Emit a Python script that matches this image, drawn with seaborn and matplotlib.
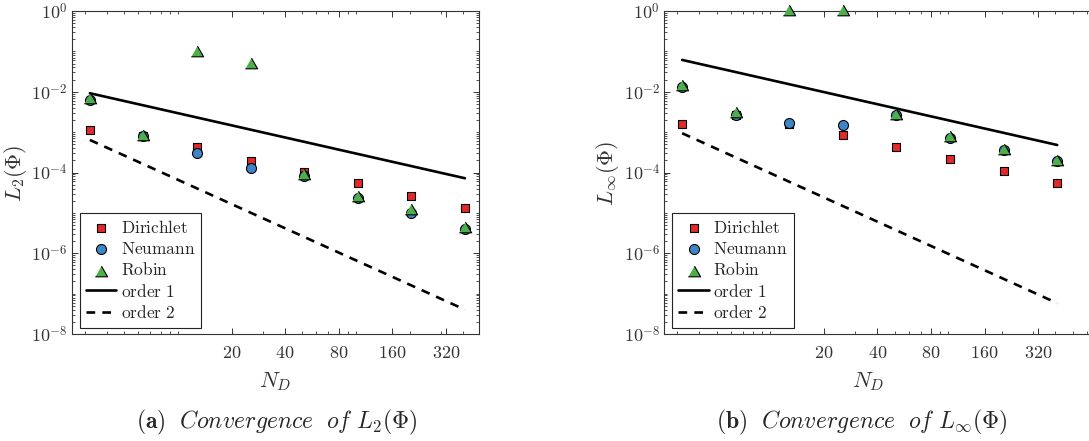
import numpy as np
import pandas as pd
import matplotlib
matplotlib.use("Agg")
import matplotlib.pyplot as plt
import seaborn as sns
from matplotlib.ticker import FixedLocator, FixedFormatter, LogLocator, NullFormatter

# ---------------- data ----------------
N = [3.2, 6.4, 12.8, 25.6, 51.2, 102.4, 204.8, 409.6]
order_N = [3.2, 409.6]
xtick_vals = [20, 40, 80, 160, 320]
xtick_labels = ["$20$", "$40$", "$80$", "$160$", "$320$"]
ytick_vals = [1e-8, 1e-6, 1e-4, 1e-2, 1e0]
ytick_labels = ["$10^{-8}$", "$10^{-6}$", "$10^{-4}$", "$10^{-2}$", "$10^{0}$"]

l2_dirichlet = [1.14e-3, 8.1e-4, 4.4e-4, 1.9e-4, 1.04e-4, 5.4e-5, 2.6e-5, 1.3e-5]
l2_neumann = [6.3e-3, 8.0e-4, 3.1e-4, 1.28e-4, 8.3e-5, 2.3e-5, 9.9e-6, 4.0e-6]
l2_robin = [7.2e-3, 8.4e-4, 1.04e-1, 5.07e-2, 9.3e-5, 2.65e-5, 1.24e-5, 4.45e-6]
l2_order1 = [9.2e-3, 7.2e-5]
l2_order2 = [6.4e-4, 4.0e-8]

linf_dirichlet = [1.6e-3, 2.6e-3, 1.6e-3, 8.5e-4, 4.4e-4, 2.2e-4, 1.06e-4, 5.5e-5]
linf_neumann = [1.34e-2, 2.7e-3, 1.66e-3, 1.54e-3, 2.6e-3, 7.3e-4, 3.57e-4, 1.9e-4]
linf_robin = [1.48e-2, 3.2e-3, 1.06, 1.06, 2.77e-3, 7.8e-4, 3.86e-4, 2.06e-4]
linf_order1 = [6.14e-2, 4.8e-4]
linf_order2 = [9.4e-4, 5.8e-8]

series_names = ["Dirichlet", "Neumann", "Robin"]
colors = {"Dirichlet": "#E32A2A", "Neumann": "#3D85C6", "Robin": "#4DAF4A"}

# ---------------- style ----------------
sns.set_style("ticks")
plt.rcParams["mathtext.fontset"] = "cm"
plt.rcParams["font.family"] = ["DejaVu Serif", "DejaVu Sans"]
plt.rcParams["axes.unicode_minus"] = False

tri = [(-1, -0.866), (1, -0.866), (0, 0.866)]
marker_map = {"Dirichlet": "s", "Neumann": "o", "Robin": tri}
size_map = {"Dirichlet": 34, "Neumann": 52, "Robin": 78}

fig = plt.figure(figsize=(10.89, 4.41), dpi=100)
W, H = 1089.0, 441.0
ax1 = fig.add_axes([72 / W, 107 / H, 407 / W, 323 / H])
ax2 = fig.add_axes([664.3 / W, 107 / H, 440 / W, 323 / H])


def draw(ax, d, n, r, o1, o2, ylabel, xlim, xlab_x, ylab_x, leg_x):
    for name, vals in zip(series_names, [d, n, r]):
        df = pd.DataFrame({"N": N, "err": vals})
        sns.scatterplot(data=df, x="N", y="err", ax=ax, marker=marker_map[name],
                        s=size_map[name], color=colors[name], edgecolor="black",
                        linewidth=0.8, label=r"$\mathrm{%s}$" % name, clip_on=False,
                        zorder=3)
    sns.lineplot(x=order_N, y=o1, ax=ax, color="black", lw=1.9,
                 label=r"$\mathrm{order\ 1}$", zorder=4)
    sns.lineplot(x=order_N, y=o2, ax=ax, color="black", lw=1.9,
                 dashes=False, label=r"$\mathrm{order\ 2}$", zorder=4)
    ax.lines[-1].set_dashes((3.3, 2.7))
    ax.set_xscale("log")
    ax.set_yscale("log")
    ax.set_xlim(*xlim)
    ax.set_ylim(1e-8, 1e0)
    ax.xaxis.set_major_locator(FixedLocator(xtick_vals))
    ax.xaxis.set_major_formatter(FixedFormatter(xtick_labels))
    ax.xaxis.set_minor_locator(LogLocator(base=10, subs=np.arange(1, 10), numticks=100))
    ax.xaxis.set_minor_formatter(NullFormatter())
    ax.yaxis.set_major_locator(FixedLocator(ytick_vals))
    ax.yaxis.set_major_formatter(FixedFormatter(ytick_labels))
    ax.yaxis.set_minor_locator(LogLocator(base=10, subs=np.arange(1, 10), numticks=100))
    ax.yaxis.set_minor_formatter(NullFormatter())
    ax.tick_params(which="both", direction="in", top=True, right=True,
                   colors="#333333", labelcolor="#333333", labelsize=13)
    ax.tick_params(which="major", length=4, width=0.7)
    ax.tick_params(which="minor", length=2.2, width=0.6)
    ax.tick_params(axis="x", which="major", pad=7)
    ax.tick_params(axis="y", which="major", pad=3)
    for sp in ax.spines.values():
        sp.set_color("#333333")
        sp.set_linewidth(0.8)
    ax.set_xlabel(r"$N_D$", fontsize=16, color="#333333")
    ax.set_ylabel(ylabel, fontsize=16, color="#333333")
    ax.xaxis.set_label_coords(xlab_x, -0.113)
    ax.yaxis.set_label_coords(ylab_x, 0.498)
    leg = ax.legend(loc="lower left", bbox_to_anchor=(leg_x, 0.0186), borderaxespad=0,
                    frameon=True, fancybox=False, edgecolor="#222222", framealpha=1,
                    fontsize=12.5, handlelength=1.75, handletextpad=0.25,
                    labelspacing=0.25, borderpad=0.35, scatterpoints=1)
    leg.get_frame().set_linewidth(0.8)


draw(ax1, l2_dirichlet, l2_neumann, l2_robin, l2_order1, l2_order2,
     r"$L_2(\Phi)$", (2.54, 491), 0.5, -0.105, 0.0197)
draw(ax2, linf_dirichlet, linf_neumann, linf_robin, linf_order1, linf_order2,
     r"$L_\infty(\Phi)$", (2.54, 753), (868 - 664.3) / 440, -0.098, 8 / 440)

fig.text(277 / W, 1 - 422 / H, r"$\mathbf{(a)}\ \ \mathit{Convergence\ \ of}\ L_2(\Phi)$",
         ha="center", va="center", fontsize=17)
fig.text(862 / W, 1 - 422 / H, r"$\mathbf{(b)}\ \ \mathit{Convergence\ \ of}\ L_\infty(\Phi)$",
         ha="center", va="center", fontsize=17)

fig.savefig("out.png", dpi=100)
